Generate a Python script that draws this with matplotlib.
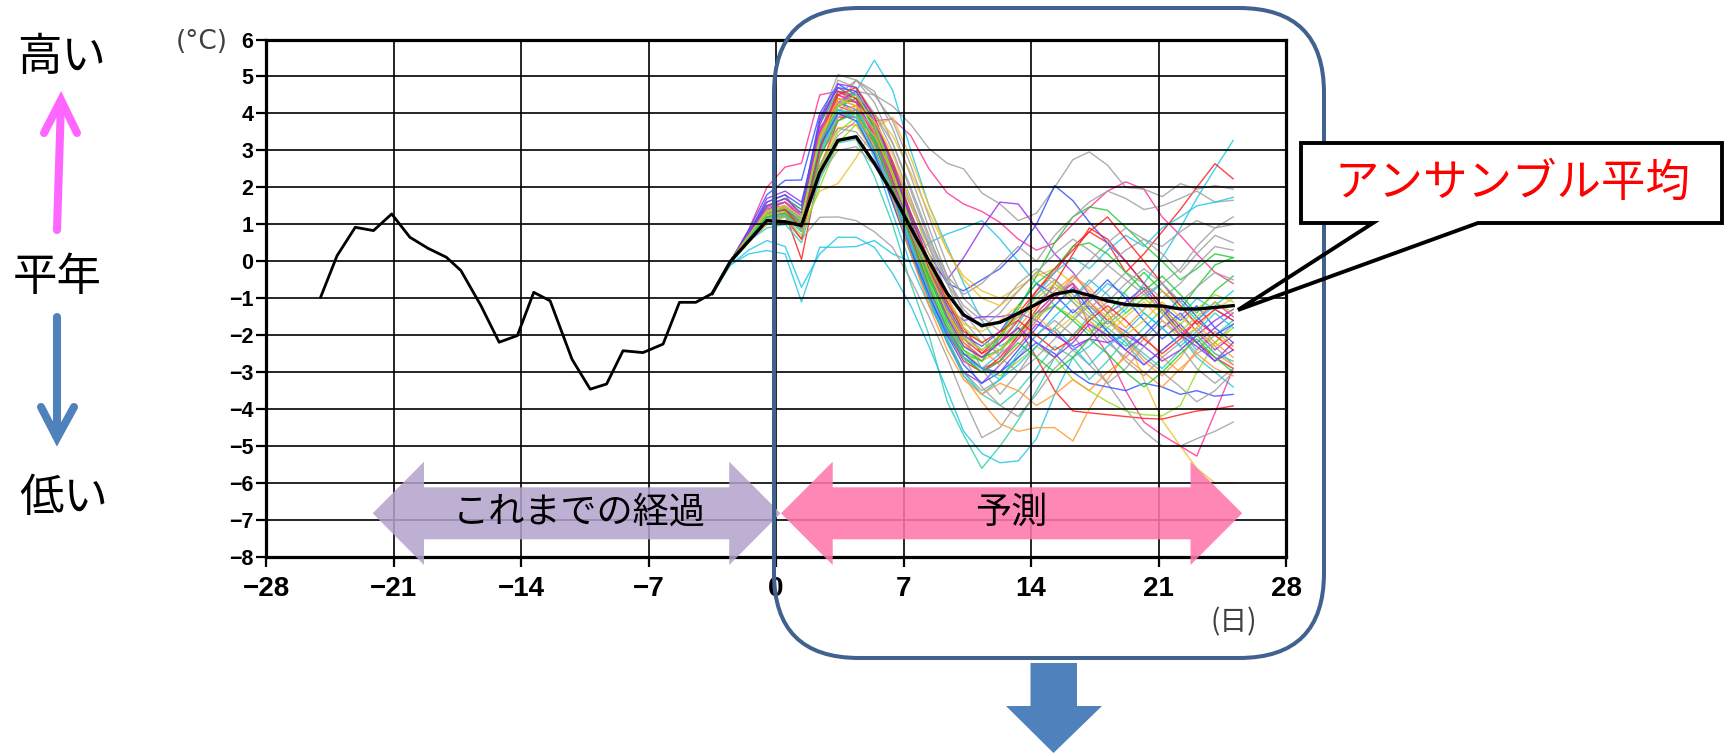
import matplotlib
matplotlib.use('Agg')
import matplotlib.pyplot as plt
from matplotlib.patches import Polygon, FancyBboxPatch, Rectangle
from matplotlib.lines import Line2D
from matplotlib.transforms import Affine2D
from matplotlib.font_manager import FontProperties

plt.rcParams['font.family'] = ['Noto Sans CJK JP', 'DejaVu Sans']

# observed anomaly (black line, left part)
past_days = [-25.0, -24.1, -23.1, -22.1, -21.1, -20.1, -19.1, -18.1, -17.3, -16.2, -15.2, -14.2,
             -13.3, -12.4, -11.2, -10.2, -9.3, -8.4, -7.3, -6.2, -5.3, -4.4, -3.5]
past_anom = [-0.97, 0.15, 0.92, 0.83, 1.28, 0.65, 0.35, 0.11, -0.25, -1.2, -2.19, -2.01,
             -0.84, -1.07, -2.65, -3.46, -3.32, -2.42, -2.47, -2.24, -1.11, -1.11, -0.87]

# forecast days and ensemble mean
fc_days = [-3.5, -2.5, -1.5, -0.5, 0.5, 1.4, 2.4, 3.4, 4.4, 5.4, 6.4, 7.4, 8.4, 9.4, 10.3,
           11.3, 12.3, 13.3, 14.3, 15.3, 16.3, 17.2, 18.2, 19.2, 20.2, 21.2, 22.2, 23.1, 24.1, 25.1]
ens_mean = [-0.87, 0.0, 0.55, 1.1, 1.07, 0.97, 2.4, 3.27, 3.37, 2.65, 1.83, 0.9, 0.0, -0.87, -1.45,
            -1.74, -1.65, -1.41, -1.16, -0.89, -0.8, -0.92, -1.07, -1.17, -1.2, -1.21, -1.29, -1.29, -1.25, -1.2]

# ensemble members (values read / estimated from the spaghetti)
ens01 = [-0.87, 0.0, 0.85, 2.0, 2.55, 2.65, 4.5, 4.6, 4.3, 3.8, 3.85, 3.4, 2.5, 1.85, 1.55, 1.35, 1.05, 0.6, 0.3, 0.5, 1.0, 1.45, 1.9, 2.15, 1.95, 1.2, 0.7, 0.2, -0.3, -0.6]
ens02 = [-0.87, -0.05, 0.6, 1.3, 1.4, 0.9, 3.0, 4.0, 4.6, 5.44, 4.63, 3.0, 1.5, 0.4, -0.6, -1.6, -2.3, -2.0, -1.4, -0.9, -0.6, -1.2, -1.7, -1.3, -0.6, 0.1, 0.9, 1.7, 2.5, 3.27]
ens03 = [-0.87, 0.0, 0.75, 1.5, 1.6, 1.3, 3.8, 5.05, 4.9, 4.5, 4.2, 3.7, 3.05, 2.65, 2.5, 1.85, 1.55, 1.1, 1.3, 2.0, 2.75, 2.96, 2.6, 2.0, 1.95, 1.75, 2.1, 1.95, 2.05, 1.95]
ens04 = [-0.87, 0.0, 0.7, 1.2, 1.3, 0.05, 2.5, 3.8, 4.1, 3.5, 2.4, 1.2, 0.0, -1.0, -1.8, -2.5, -2.2, -1.6, -0.8, -0.3, 0.4, 0.8, 0.5, -0.3, 0.2, 0.8, 1.4, 2.0, 2.64, 2.23]
ens05 = [-0.87, -0.05, 0.55, 0.9, 1.0, 0.5, 2.2, 3.2, 3.3, 2.3, 1.0, -0.6, -2.0, -3.8, -4.7, -5.6, -5.0, -4.3, -3.5, -2.6, -2.0, -1.5, -1.9, -2.3, -1.8, -1.3, -1.9, -2.4, -2.0, -1.6]
ens06 = [-0.87, -0.1, 0.3, 0.56, 0.4, -0.7, 0.2, 0.65, 0.65, 0.38, -0.33, -1.2, -2.3, -3.5, -4.6, -5.2, -5.45, -5.4, -4.8, -3.6, -2.6, -2.3, -1.8, -2.2, -2.8, -2.4, -2.0, -2.6, -3.0, -3.4]
ens07 = [-0.87, -0.1, 0.2, 0.29, 0.2, -1.1, 0.38, 0.38, 0.4, 0.56, 0.2, 0.0, 0.5, 0.74, 0.9, 1.1, 0.6, 0.0, -0.6, -1.2, -1.6, -1.1, -0.6, -0.9, -1.4, -1.8, -1.5, -1.0, -1.3, -1.6]
ens08 = [-0.87, -0.05, 0.5, 1.0, 1.1, 0.6, 1.19, 1.2, 1.1, 0.8, 0.38, -0.5, -1.5, -2.6, -3.7, -4.77, -4.5, -3.8, -3.1, -2.6, -2.0, -1.6, -2.1, -2.7, -3.1, -2.6, -2.2, -1.8, -2.3, -2.8]
ens09 = [-0.87, 0.0, 0.6, 1.0, 1.2, 0.9, 1.9, 2.1, 2.8, 3.6, 3.9, 2.8, 1.5, 0.3, -0.4, -0.8, -1.0, -0.7, -0.4, -0.2, -0.6, -1.2, -1.6, -2.0, -3.2, -4.3, -5.0, -5.6, -6.0, -6.0]
ens10 = [-0.87, 0.0, 0.8, 1.6, 1.8, 1.2, 3.2, 4.2, 4.0, 3.0, 1.8, 0.4, -0.8, -1.8, -2.5, -2.9, -2.7, -2.0, -1.4, -0.9, -0.6, -1.8, -2.5, -3.5, -4.35, -4.7, -5.0, -5.27, -4.1, -2.9]
ens11 = [-0.87, 0.0, 0.7, 1.2, 1.2, 0.6, 2.8, 3.9, 3.9, 3.2, 2.0, 0.8, -0.4, -1.4, -2.2, -2.6, -2.2, -1.8, -2.6, -3.5, -4.05, -4.1, -4.15, -4.2, -4.25, -4.27, -4.15, -4.05, -4.0, -3.91]
ens12 = [-0.87, -0.05, 0.6, 1.2, 1.3, 1.0, 2.6, 3.6, 3.7, 2.9, 1.6, 0.2, -1.1, -2.2, -3.1, -3.8, -4.4, -4.6, -4.5, -4.5, -4.86, -4.0, -3.2, -2.5, -2.0, -2.6, -3.0, -2.4, -1.9, -2.3]
ens13 = [-0.87, 0.0, 0.7, 1.4, 1.5, 1.1, 3.5, 4.6, 4.4, 3.3, 1.9, 0.5, -0.9, -2.1, -3.0, -3.5, -3.2, -2.6, -2.0, -1.6, -2.0, -2.6, -3.3, -4.0, -4.6, -5.0, -5.0, -4.8, -4.6, -4.35]
ens14 = [-0.87, 0.0, 0.85, 1.8, 2.19, 2.2, 4.0, 4.8, 4.5, 3.6, 2.5, 1.3, 0.2, -0.6, -0.8, -0.5, -0.2, 0.3, 1.0, 2.05, 1.64, 1.06, 0.5, 0.0, -0.6, -1.2, -1.6, -1.2, -1.8, -2.2]
ens15 = [-0.87, 0.0, 0.75, 1.7, 1.9, 1.6, 3.6, 4.3, 4.6, 3.7, 2.3, 1.0, 0.0, -0.5, 0.1, 0.9, 1.6, 1.55, 0.9, 0.2, -0.3, -0.9, -1.4, -1.1, -0.7, -1.3, -1.9, -2.2, -1.8, -1.4]
ens16 = [-0.87, 0.0, 0.7, 1.3, 1.5, 1.2, 3.4, 4.4, 4.2, 3.2, 1.9, 0.6, -0.6, -1.7, -2.5, -2.7, -2.1, -1.3, -0.4, 0.5, 1.2, 1.47, 1.38, 0.92, 0.45, 0.0, -0.5, -0.2, 0.2, 0.1]
ens17 = [-0.87, 0.0, 0.65, 1.4, 1.5, 1.0, 3.3, 4.5, 4.9, 4.3, 3.2, 1.9, 0.6, -0.4, -0.9, -0.6, -0.1, 0.4, 0.0, 0.7, 1.2, 1.6, 1.9, 1.7, 1.4, 1.5, 1.7, 1.9, 1.6, 1.65]
ens18 = [-0.87, -0.05, 0.55, 1.1, 1.2, 0.8, 2.9, 4.0, 3.9, 2.8, 1.3, -0.1, -1.2, -2.0, -2.6, -2.9, -2.5, -1.7, -0.9, -0.3, 0.1, -0.2, 0.3, 0.7, 0.4, 0.9, 1.2, 1.5, 1.6, 1.73]
ens19 = [-0.87, 0.0, 0.8, 1.5, 1.7, 1.4, 3.9, 4.7, 4.4, 3.3, 1.8, 0.4, -1.0, -2.2, -3.0, -3.3, -2.8, -2.3, -1.7, -1.9, -2.4, -2.1, -1.6, -1.9, -2.3, -1.8, -1.4, -1.9, -2.4, -2.0]
ens20 = [-0.87, 0.0, 0.65, 1.3, 1.4, 1.0, 3.1, 4.4, 4.2, 3.4, 2.3, 1.0, -0.2, -1.2, -2.0, -2.4, -2.8, -2.3, -1.6, -1.0, -0.4, -0.8, -1.4, -2.1, -2.7, -3.1, -2.6, -2.0, -2.5, -2.8]
ens21 = [-0.87, 0.0, 0.7, 1.5, 1.6, 1.3, 3.4, 4.9, 4.7, 4.0, 3.0, 1.7, 0.4, -0.9, -2.0, -2.9, -3.6, -3.0, -2.3, -1.8, -1.3, -1.7, -2.2, -2.6, -2.1, -1.6, -2.0, -2.5, -2.2, -1.7]
ens22 = [-0.87, -0.05, 0.6, 1.1, 1.2, 0.7, 2.0, 3.2, 3.7, 3.0, 1.9, 0.7, -0.5, -1.6, -2.4, -2.9, -3.1, -2.7, -2.3, -2.6, -3.2, -3.5, -3.8, -4.05, -4.15, -4.18, -3.9, -3.0, -2.2, -1.8]
ens23 = [-0.87, 0.0, 0.7, 1.3, 1.4, 1.0, 3.2, 4.3, 4.1, 3.0, 1.6, 0.2, -1.0, -1.9, -2.5, -2.9, -3.0, -2.6, -2.2, -2.5, -3.0, -3.3, -3.4, -3.5, -3.3, -3.4, -3.6, -3.5, -3.65, -3.6]
ens24 = [-0.87, 0.0, 0.75, 1.5, 1.7, 1.4, 3.7, 4.6, 4.5, 3.6, 2.2, 0.8, -0.5, -1.5, -2.3, -2.6, -2.4, -1.9, -1.4, -1.2, -1.6, -2.0, -1.4, -0.8, -0.3, -0.8, -1.3, -0.7, -0.1, 0.1]
ens25 = [-0.87, 0.0, 0.6, 1.2, 1.3, 0.9, 3.0, 4.2, 4.6, 4.5, 3.8, 2.6, 1.2, -0.1, -1.0, -1.5, -1.9, -1.5, -0.9, -0.5, -0.9, -1.3, -0.8, -0.3, -0.6, -1.0, -0.6, -0.1, 0.4, 0.3]
ens26 = [-0.87, 0.0, 0.7, 1.4, 1.5, 1.0, 3.3, 4.4, 4.3, 3.4, 2.1, 0.7, -0.7, -1.9, -2.7, -3.0, -2.6, -2.0, -1.3, -0.6, 0.2, 0.9, 0.6, 0.0, -0.6, -1.2, -1.8, -2.2, -2.6, -2.9]
ens27 = [-0.87, 0.0, 0.65, 1.2, 1.3, 0.8, 3.0, 4.1, 4.0, 3.1, 1.7, 0.3, -1.0, -2.1, -3.0, -3.6, -3.9, -3.5, -2.9, -2.3, -2.6, -3.2, -2.7, -2.1, -2.5, -2.9, -2.4, -2.0, -2.5, -2.7]
ens28 = [-0.87, 0.0, 0.65, 1.3, 1.4, 1.1, 2.6, 3.4, 3.8, 3.5, 2.7, 1.6, 0.5, -0.5, -1.2, -1.6, -1.2, -0.6, -0.2, -0.5, -1.0, -0.6, -0.1, 0.3, 0.6, 0.4, 0.8, 1.1, 0.9, 1.0]
ens29 = [-0.87, 0.0, 0.7, 1.3, 1.4, 1.2, 2.8, 3.9, 4.2, 4.0, 3.4, 2.4, 1.3, 0.3, -0.5, -1.0, -1.2, -0.8, -0.3, -0.6, -1.1, -1.6, -2.0, -1.5, -1.1, -1.6, -2.1, -1.8, -1.3, -1.0]
ens30 = [-0.87, 0.0, 0.75, 1.6, 1.8, 1.5, 3.8, 4.7, 4.6, 3.8, 2.6, 1.2, -0.1, -1.2, -2.0, -2.3, -1.9, -1.2, -0.6, -0.9, -1.4, -1.0, -0.5, -1.0, -1.6, -2.1, -1.7, -2.2, -2.7, -2.4]
ens31 = [-0.87, 0.0, 0.7, 1.4, 1.6, 1.2, 3.5, 4.5, 4.3, 3.5, 2.2, 0.9, -0.3, -1.3, -1.6, -1.5, -1.5, -1.4, -1.6, -2.0, -2.3, -2.1, -2.2, -2.0, -2.3, -2.7, -2.4, -2.0, -1.6, -1.3]
ens32 = [-0.87, 0.0, 0.7, 1.35, 1.45, 1.15, 3.2, 4.3, 4.5, 4.0, 3.2, 2.0, 0.7, -0.6, -1.6, -2.2, -2.5, -2.1, -1.6, -1.0, -0.5, 0.0, 0.5, 0.9, 0.6, 0.2, -0.3, 0.2, 0.7, 0.5]
ens33 = [-0.87, 0.0, 0.65, 1.25, 1.35, 0.9, 3.0, 4.1, 4.2, 3.5, 2.3, 1.0, -0.3, -1.4, -2.2, -2.7, -2.4, -1.8, -1.2, -0.8, -0.4, -0.7, -1.3, -1.8, -1.3, -0.8, -1.2, -1.7, -2.2, -2.6]
ens34 = [-0.87, 0.0, 0.7, 1.3, 1.4, 1.0, 3.1, 4.2, 4.4, 3.6, 2.4, 1.0, -0.4, -1.6, -2.4, -2.7, -2.0, -1.2, -0.6, -0.2, 0.4, 0.5, 0.2, -0.3, -0.8, -0.4, -0.9, -1.4, -0.8, -0.4]
ens35 = [-0.87, 0.0, 0.7, 1.3, 1.45, 1.1, 3.3, 4.6, 4.4, 3.7, 2.5, 1.1, -0.2, -1.3, -2.1, -2.5, -2.0, -1.4, -0.8, -0.2, 0.3, 0.8, 1.2, 0.6, 0.0, -0.6, -1.2, -1.7, -1.3, -1.6]
ens36 = [-0.87, 0.0, 0.65, 1.2, 1.3, 1.0, 3.3, 4.2, 4.9, 4.6, 3.6, 2.3, 0.9, -0.4, -1.4, -2.0, -2.6, -3.0, -2.6, -2.1, -1.6, -1.2, -1.6, -2.1, -2.6, -3.0, -3.4, -3.8, -3.5, -3.0]
ens37 = [-0.87, 0.0, 0.75, 1.45, 1.6, 1.2, 3.5, 4.5, 4.3, 3.4, 2.0, 0.6, -0.8, -1.9, -2.6, -3.0, -2.7, -2.1, -1.5, -1.0, -0.6, -1.1, -1.6, -1.2, -0.8, -1.4, -2.0, -1.6, -1.1, -1.5]
ens38 = [-0.87, 0.0, 0.6, 1.15, 1.25, 0.9, 3.0, 4.0, 4.1, 3.3, 1.9, 0.4, -1.0, -2.2, -3.1, -3.6, -3.2, -2.5, -2.0, -1.5, -1.0, -0.5, -0.9, -1.4, -1.0, -0.6, -1.1, -1.6, -1.2, -0.8]
ens39 = [-0.87, 0.0, 0.65, 1.25, 1.35, 0.95, 2.5, 3.5, 3.9, 3.4, 2.4, 1.1, -0.1, -1.1, -1.8, -2.2, -2.4, -2.0, -1.5, -1.2, -1.5, -1.9, -1.6, -1.2, -0.9, -1.3, -1.7, -1.3, -0.9, -1.1]
ens40 = [-0.87, 0.0, 0.7, 1.3, 1.4, 1.05, 2.8, 3.9, 4.1, 3.6, 2.6, 1.5, 0.4, -0.6, -1.3, -1.8, -1.4, -0.8, -0.3, 0.2, 0.6, 0.3, -0.1, -0.5, -0.9, -0.6, -0.2, 0.4, 0.9, 1.2]
ens41 = [-0.87, 0.0, 0.7, 1.4, 1.5, 1.2, 2.9, 3.6, 3.5, 2.9, 2.0, 0.9, -0.3, -1.5, -2.6, -3.4, -3.9, -4.2, -3.6, -2.9, -2.4, -2.8, -3.3, -2.9, -2.3, -1.8, -2.3, -2.9, -3.3, -2.9]
ens42 = [-0.87, 0.0, 0.7, 1.3, 1.4, 1.1, 3.1, 4.0, 3.8, 2.9, 1.6, 0.3, -0.9, -2.0, -2.8, -3.3, -3.0, -2.4, -1.8, -1.2, -0.7, -1.3, -1.9, -2.4, -2.0, -1.5, -1.0, -1.5, -2.0, -1.7]
ens43 = [-0.87, 0.0, 0.7, 1.35, 1.5, 1.1, 3.4, 4.3, 4.0, 3.1, 1.7, 0.2, -1.2, -2.4, -3.2, -3.6, -3.3, -3.5, -3.9, -3.6, -3.2, -3.5, -3.0, -2.6, -3.0, -3.4, -2.9, -2.5, -2.9, -3.1]
ens44 = [-0.87, 0.0, 0.65, 1.2, 1.3, 0.9, 2.8, 3.8, 4.0, 3.3, 2.0, 0.6, -0.7, -1.8, -2.6, -3.0, -2.7, -2.2, -2.6, -3.0, -2.6, -2.1, -2.5, -3.0, -3.4, -3.0, -2.5, -2.1, -2.6, -3.0]
ens45 = [-0.87, 0.0, 0.75, 1.5, 1.7, 1.3, 3.7, 4.8, 4.7, 3.9, 2.6, 1.1, -0.3, -1.5, -2.3, -2.6, -2.2, -1.8, -2.2, -2.6, -2.2, -1.7, -2.0, -2.4, -2.8, -2.4, -2.0, -2.3, -2.7, -2.2]
ens46 = [-0.87, 0.0, 0.6, 1.15, 1.25, 0.85, 2.3, 3.0, 3.1, 2.6, 1.8, 0.8, -0.3, -1.3, -2.0, -2.4, -2.1, -1.6, -1.1, -0.7, -1.1, -1.5, -1.1, -0.6, -0.2, -0.6, -1.1, -0.7, -0.3, -0.5]
ens47 = [-0.87, 0.0, 0.7, 1.3, 1.4, 0.9, 3.0, 4.5, 4.7, 3.9, 2.7, 1.3, 0.0, -1.1, -1.9, -2.2, -1.9, -1.6, -2.0, -2.4, -2.1, -1.6, -1.2, -1.6, -2.1, -2.5, -2.1, -1.6, -2.0, -2.4]
ens48 = [-0.87, 0.0, 0.65, 1.3, 1.45, 1.15, 3.2, 4.1, 3.9, 3.0, 1.8, 0.5, -0.8, -1.9, -2.6, -2.9, -3.2, -2.8, -2.3, -1.8, -2.3, -2.8, -2.3, -1.9, -1.4, -1.8, -2.3, -1.9, -1.4, -1.8]
ens49 = [-0.87, 0.0, 0.7, 1.35, 1.5, 1.2, 3.3, 4.4, 4.2, 3.8, 2.9, 1.6, 0.2, -1.0, -1.7, -1.9, -1.6, -1.2, -1.5, -1.9, -1.5, -1.1, -1.5, -2.0, -1.6, -1.1, -1.5, -1.9, -2.3, -2.0]
ens50 = [-0.87, 0.0, 0.7, 1.3, 1.45, 1.1, 3.3, 4.2, 4.5, 3.7, 2.4, 1.0, -0.3, -1.4, -2.1, -2.4, -2.0, -1.5, -1.0, -0.6, -1.0, -1.4, -1.8, -1.4, -1.0, -1.4, -1.9, -1.5, -1.1, -1.4]

PINK, CYAN, GRAY, RED, TEAL = '#ff3399', '#22c8e8', '#a0a0a0', '#ff2222', '#30d0b0'
YELLOW, ORANGE, BLUE, PURPLE, GREEN, LIME = '#f0c030', '#ff9933', '#3355ff', '#9933ee', '#22cc33', '#99dd22'

members = [ens01, ens02, ens03, ens04, ens05, ens06, ens07, ens08, ens09, ens10,
           ens11, ens12, ens13, ens14, ens15, ens16, ens17, ens18, ens19, ens20,
           ens21, ens22, ens23, ens24, ens25, ens26, ens27, ens28, ens29, ens30,
           ens31, ens32, ens33, ens34, ens35, ens36, ens37, ens38, ens39, ens40,
           ens41, ens42, ens43, ens44, ens45, ens46, ens47, ens48, ens49, ens50]
member_colors = [PINK, CYAN, GRAY, RED, TEAL, CYAN, CYAN, GRAY, YELLOW, PINK,
                 RED, ORANGE, GRAY, BLUE, PURPLE, GREEN, GRAY, CYAN, PURPLE, ORANGE,
                 GRAY, LIME, BLUE, GREEN, GRAY, RED, TEAL, GRAY, YELLOW, BLUE,
                 PURPLE, GRAY, ORANGE, GREEN, RED, GRAY, PINK, CYAN, LIME, GRAY,
                 GRAY, BLUE, ORANGE, GREEN, PURPLE, GRAY, RED, CYAN, YELLOW, LIME]

xticks = [-28, -21, -14, -7, 0, 7, 14, 21, 28]
yticks = [-8, -7, -6, -5, -4, -3, -2, -1, 0, 1, 2, 3, 4, 5, 6]

W, H = 1725, 753
fig = plt.figure(figsize=(W / 100, H / 100), dpi=100)
# pixel coordinates, origin top-left, for the annotation shapes
pix = Affine2D().scale(1.0 / W, -1.0 / H).translate(0, 1) + fig.transFigure

ax = fig.add_axes([266 / W, 1 - 557 / H, (1286 - 266) / W, (557 - 39.5) / H])

for vals, col in zip(members, member_colors):
    ax.plot(fc_days, vals, color=col, lw=1.0, alpha=0.85, zorder=2)
ax.plot(past_days, past_anom, color='black', lw=2.0, zorder=3)
ax.plot(fc_days, ens_mean, color='black', lw=2.4, zorder=3)

ax.set_xlim(-28, 28)
ax.set_ylim(-8, 6)
ax.set_xticks(xticks)
ax.set_yticks(yticks)
ax.set_axisbelow(False)
ax.grid(True, color='black', lw=1.2)
for s in ax.spines.values():
    s.set_linewidth(2.3)
ax.tick_params(axis='both', direction='out', length=7.5, width=1.6)
ax.tick_params(axis='x', pad=6)
ax.tick_params(axis='y', pad=1.5)
xfont = FontProperties(family='Liberation Sans', weight='bold', size=20)
yfont = FontProperties(family='Liberation Sans', weight='bold', size=15.5)
for lbl in ax.get_xticklabels():
    lbl.set_fontproperties(xfont)
for lbl in ax.get_yticklabels():
    lbl.set_fontproperties(yfont)

fig.text(202, 42, '(°C)', transform=pix, ha='center', va='center', fontsize=19,
         color='#404040', family='DejaVu Sans')
fig.text(1234, 622, '(日)', transform=pix, ha='center', va='center', fontsize=20, color='#404040')

# period arrows
purple_arrow = [(372.7, 513.3), (424, 461.7), (424, 487.3), (729.2, 487.3), (729.2, 461.7),
                (780.6, 513.3), (729.2, 565), (729.2, 539.3), (424, 539.3), (424, 565)]
pink_arrow = [(781, 513.3), (832.7, 461.7), (832.7, 487.3), (1190.5, 487.3), (1190.5, 461.7),
              (1242.2, 513.3), (1190.5, 565), (1190.5, 539.3), (832.7, 539.3), (832.7, 565)]
fig.patches.append(Polygon(purple_arrow, closed=True, transform=pix, fc='#b3a2cc', ec='none',
                           alpha=0.85, zorder=1))
fig.patches.append(Polygon(pink_arrow, closed=True, transform=pix, fc='#ff76ab', ec='none',
                           alpha=0.88, zorder=1))
fig.text(579, 513, 'これまでの経過', transform=pix, ha='center', va='center', fontsize=26,
         color='black', zorder=4)
fig.text(1011, 513, '予測', transform=pix, ha='center', va='center', fontsize=26,
         color='black', zorder=4)

# forecast period frame and arrow below
fig.patches.append(FancyBboxPatch((774, 8), 550, 650, boxstyle='round,pad=0,rounding_size=85',
                                  transform=pix, fill=False, ec='#41628f', lw=2.9, zorder=2))
down_big = [(1030.5, 663), (1077, 663), (1077, 706), (1102, 706), (1053.5, 753),
            (1006, 706), (1030.5, 706)]
fig.patches.append(Polygon(down_big, closed=True, transform=pix, fc='#4f81bd', ec='none', zorder=2))

# callout for ensemble mean
fig.patches.append(Rectangle((1301, 143), 421, 80, transform=pix, fc='white', ec='none', zorder=3))
callout = [(1373, 223), (1301, 223), (1301, 143), (1722, 143), (1722, 223), (1478, 223),
           (1238, 310)]
fig.patches.append(Polygon(callout, closed=True, fill=False, transform=pix, ec='black', lw=2.8,
                           joinstyle='miter', zorder=3))
fig.text(1512, 183, 'アンサンブル平均', transform=pix, ha='center', va='center', fontsize=32,
         color='#ff0000', zorder=4)

# left legend: high / normal / low
fig.text(62, 57, '高い', transform=pix, ha='center', va='center', fontsize=32)
fig.text(57, 277, '平年', transform=pix, ha='center', va='center', fontsize=32)
fig.text(64, 498, '低い', transform=pix, ha='center', va='center', fontsize=32)
for xs, ys, col in [([57, 61], [230, 102], '#ff66ff'), ([44, 61, 77], [133, 100, 133], '#ff66ff'),
                    ([57, 57], [317, 436], '#4f81bd'), ([41, 57, 74], [407, 438, 407], '#4f81bd')]:
    fig.lines.append(Line2D(xs, ys, transform=pix, color=col, lw=5.8,
                            solid_capstyle='round', solid_joinstyle='miter'))

fig.savefig('out.png', dpi=100)
